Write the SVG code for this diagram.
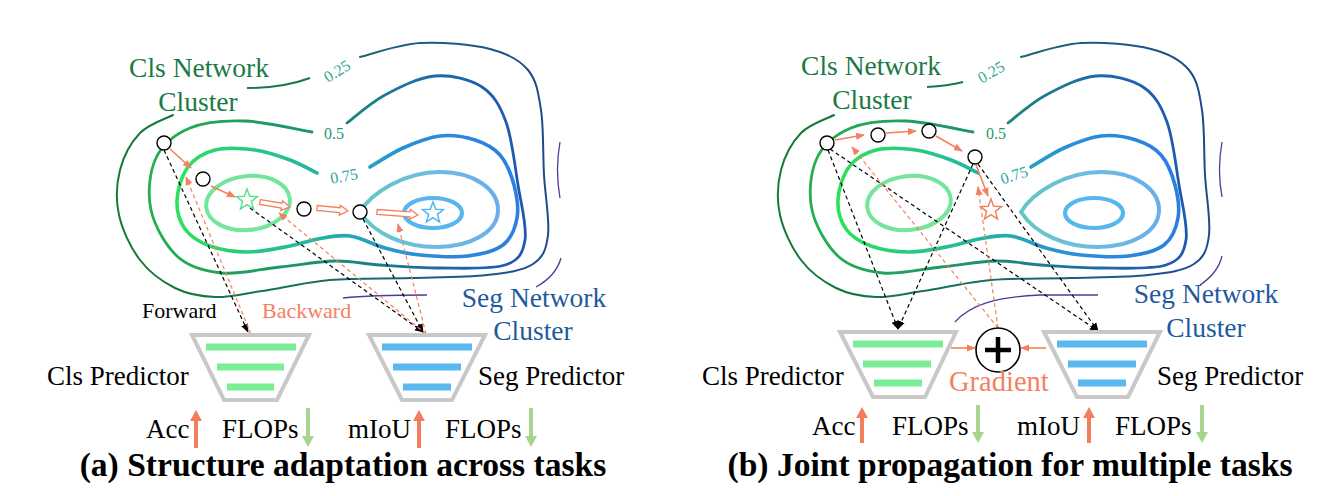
<svg xmlns="http://www.w3.org/2000/svg" width="1333" height="496" viewBox="0 0 1333 496">
<style>
text{font-family:"Liberation Serif","Times New Roman",serif;}
.lbl{font-size:27px;fill:#000;}
.cls{font-size:27.5px;fill:#1a7a45;text-anchor:middle;}
.seg{font-size:27.5px;fill:#1f5a9c;text-anchor:middle;}
.lvl{font-size:16px;text-anchor:middle;}
.title{font-size:33.6px;font-weight:bold;text-anchor:middle;fill:#000;}
.fwd{fill:none;stroke:#000;stroke-width:1.2;stroke-dasharray:4 3;marker-end:url(#ahK);}
.bwd{fill:none;stroke:#f4805f;stroke-width:1.2;stroke-dasharray:4 3;marker-end:url(#ahR);}
.step{fill:none;stroke:#f4805f;stroke-width:1.6;marker-end:url(#ahR);}
.node{fill:#fff;stroke:#000;stroke-width:1.4;}
.hollow{fill:#fff;stroke:#f4805f;stroke-width:1.3;}
.trap{fill:#fff;stroke:#c8c8c8;stroke-width:4;}
.gbar{fill:#7ced97;}
.bbar{fill:#5ab7f0;}
.up{fill:#f47d5d;}
.down{fill:#a7d48f;}
.purple{fill:none;stroke:#4a3d98;stroke-width:1.3;}
.star{fill:#fff;stroke-width:1.5;}
</style>
<defs>
<marker id="ahK" viewBox="0 0 10 10" refX="9" refY="5" markerWidth="9" markerHeight="9" markerUnits="userSpaceOnUse" orient="auto"><path d="M0,1 L10,5 L0,9 z" fill="#000"/></marker>
<marker id="ahR" viewBox="0 0 10 10" refX="9" refY="5" markerWidth="9" markerHeight="9" markerUnits="userSpaceOnUse" orient="auto"><path d="M0,1 L10,5 L0,9 z" fill="#f4805f"/></marker>
<linearGradient id="g25" gradientUnits="userSpaceOnUse" x1="117" y1="0" x2="550" y2="0"><stop offset="0" stop-color="#157a32"/><stop offset="0.45" stop-color="#18705a"/><stop offset="0.7" stop-color="#1b5f80"/><stop offset="1" stop-color="#1f4a8e"/></linearGradient>
<linearGradient id="g5" gradientUnits="userSpaceOnUse" x1="148" y1="0" x2="527" y2="0"><stop offset="0" stop-color="#22b24a"/><stop offset="0.45" stop-color="#1c9070"/><stop offset="0.75" stop-color="#1d6aa8"/><stop offset="1" stop-color="#1f58b0"/></linearGradient>
<linearGradient id="g75" gradientUnits="userSpaceOnUse" x1="176" y1="0" x2="519" y2="0"><stop offset="0" stop-color="#2ce25a"/><stop offset="0.4" stop-color="#22b6a0"/><stop offset="0.7" stop-color="#2a8ed8"/><stop offset="1" stop-color="#2a7fe3"/></linearGradient>
<linearGradient id="g9" gradientUnits="userSpaceOnUse" x1="360" y1="0" x2="498" y2="0"><stop offset="0" stop-color="#62c8c2"/><stop offset="0.5" stop-color="#6bbde0"/><stop offset="1" stop-color="#6aaeea"/></linearGradient>
<polygon id="starShape" points="0,-11 2.7,-3.7 10.5,-3.4 4.4,1.4 6.5,8.9 0,4.6 -6.5,8.9 -4.4,1.4 -10.5,-3.4 -2.7,-3.7"/>
<g id="contours" fill="none" stroke-linecap="round">
<path d="M360,57 C370,54.7 398.3,44.3 420,43 C441.7,41.7 472,44.5 490,49 C508,53.5 519.5,59.8 528,70 C536.5,80.2 538.3,92.5 541,110 C543.7,127.5 542.8,154.2 544,175 C545.2,195.8 549.8,220.2 548,235 C546.2,249.8 543.2,257.3 533,264 C522.8,270.7 507.5,272.7 487,275 C466.5,277.3 436.2,277.2 410,278 C383.8,278.8 354.7,277.8 330,280 C305.3,282.2 281.2,288.2 262,291 C242.8,293.8 229.5,297.5 215,297 C200.5,296.5 187.5,294.2 175,288 C162.5,281.8 149.3,272.2 140,260 C130.7,247.8 122.3,230 119,215 C115.7,200 116.5,183.7 120,170 C123.5,156.3 131.2,142.2 140,133 C148.8,123.8 167.5,118 173,115" stroke="url(#g25)" stroke-width="2"/>
<path d="M347,123 C353.3,118.3 370.3,102.8 385,95 C399.7,87.2 418.8,77.3 435,76 C451.2,74.7 470.2,79.3 482,87 C493.8,94.7 500,105.7 506,122 C512,138.3 514.8,165.3 518,185 C521.2,204.7 527.2,226.7 525,240 C522.8,253.3 519.2,260.3 505,265 C490.8,269.7 460.8,268 440,268 C419.2,268 397.5,266.2 380,265 C362.5,263.8 351.7,260.7 335,261 C318.3,261.3 298.8,265 280,267 C261.2,269 239,274.7 222,273 C205,271.3 189.8,267.5 178,257 C166.2,246.5 154.7,226.5 151,210 C147.3,193.5 149.5,171.7 156,158 C162.5,144.3 175.2,134.2 190,128 C204.8,121.8 224.7,120.3 245,121 C265.3,121.7 300.8,130.2 312,132" stroke="url(#g5)" stroke-width="2.8"/>
<path d="M370,167 C375.5,163.8 391.3,153.2 403,148 C414.7,142.8 428,137.3 440,136 C452,134.7 465,136.8 475,140 C485,143.2 493.5,147.5 500,155 C506.5,162.5 511.2,174.5 514,185 C516.8,195.5 518.8,208 517,218 C515.2,228 511.2,238.7 503,245 C494.8,251.3 481.8,254.3 468,256 C454.2,257.7 433.8,256.3 420,255 C406.2,253.7 396.7,251.2 385,248 C373.3,244.8 361.2,237.5 350,236 C338.8,234.5 328,237.3 318,239 C308,240.7 301.7,243.8 290,246 C278.3,248.2 261.3,252 248,252 C234.7,252 220.5,249.8 210,246 C199.5,242.2 190.5,236.7 185,229 C179.5,221.3 176.5,210.3 177,200 C177.5,189.7 181.7,175.3 188,167 C194.3,158.7 203.8,152.8 215,150 C226.2,147.2 242.5,148.3 255,150 C267.5,151.7 279.7,156.2 290,160 C300.3,163.8 312.5,170.8 317,173" stroke="url(#g75)" stroke-width="3.6"/>
<ellipse cx="248" cy="203" rx="42" ry="27" transform="rotate(-6 248 203)" stroke="#74e59a" stroke-width="4"/>
<path d="M360,212 C372,192 405,172 440,172 C475,172 498,190 498,210 C498,232 470,247 437,247 C405,247 375,235 360,212 Z" stroke="url(#g9)" stroke-width="4"/>
<ellipse cx="433" cy="213" rx="29" ry="15" stroke="#58b6ee" stroke-width="4.2"/>
</g>
</defs>

<g id="panel-a-landscape">
<use href="#contours"/>
<path d="M247,88 Q283,88 310,78" fill="none" stroke="#1a7848" stroke-width="2"/>
<path class="purple" d="M560,142 Q555,170 560,198"/>
<path class="purple" d="M561,258 Q556,276 536,287"/>
<path class="purple" d="M343,298 C370,295 395,295 427,295"/>
<text class="lvl" fill="#3aa597" transform="translate(337,71) rotate(-32)" y="5.5">0.25</text>
<text class="lvl" fill="#1f9a70" x="334" y="138.5">0.5</text>
<text class="lvl" fill="#2aa6a6" transform="translate(344,176) rotate(-10)" y="5.5">0.75</text>
</g>

<g id="panel-b-landscape">
<use href="#contours" transform="translate(661,0)"/>
<path d="M927,87 Q948,86 963,82" fill="none" stroke="#1a7848" stroke-width="2"/>
<path class="purple" d="M1222,142 Q1217,170 1222,197"/>
<path class="purple" d="M1222,256 Q1218,273 1200,285"/>
<path class="purple" d="M955,322 C970,305 995,297 1040,295 L1098,295"/>
<text class="lvl" fill="#3aa597" transform="translate(991,72) rotate(-30)" y="5.5">0.25</text>
<text class="lvl" fill="#1f9a70" x="996" y="139">0.5</text>
<text class="lvl" fill="#2aa6a6" transform="translate(1014,175) rotate(-18)" y="5.5">0.75</text>
</g>

<g id="connectors">
<path class="fwd" d="M164,150 L248,332"/>
<path class="fwd" d="M250,208 L423,332"/>
<path class="fwd" d="M363,219 L423,332"/>
<path class="bwd" d="M251,334 L186,177"/>
<path class="bwd" d="M426,334 L279,213"/>
<path class="bwd" d="M426,334 L398,224"/>
<path class="step" d="M170,149 L191,168"/>
<path class="step" d="M211,186 L235,197"/>
<path class="hollow" transform="translate(260,202) rotate(9.5)" d="M0,-2.5 H22 V-5 L30,0 L22,5 V2.5 H0 Z"/>
<path class="hollow" transform="translate(317,208) rotate(5.5)" d="M0,-2.5 H23 V-5 L31,0 L23,5 V2.5 H0 Z"/>
<path class="hollow" transform="translate(377,212) rotate(4.2)" d="M0,-2.5 H33 V-5 L41,0 L33,5 V2.5 H0 Z"/>

<path class="fwd" d="M828,150 L898,329"/>
<path class="fwd" d="M973,164 L898,329"/>
<path class="fwd" d="M830,149 L1098,331"/>
<path class="fwd" d="M978,164 L1098,331"/>
<path class="bwd" d="M998,328 L852,147"/>
<path class="bwd" d="M998,328 L978,187"/>
<path class="step" d="M835,140 L864,135"/>
<path class="step" d="M886,133 L916,131"/>
<path class="step" d="M936,136 L962,151"/>
<path class="step" d="M976,165 L988,196"/>
<path class="step" d="M951,348 L975,348"/>
<path class="step" d="M1046,348 L1021,348"/>
</g>

<g id="nodes-a">
<circle id="a-c1" class="node" cx="164" cy="143" r="7"/>
<circle id="a-c2" class="node" cx="203" cy="179" r="7"/>
<circle id="a-c3" class="node" cx="304" cy="209" r="7"/>
<circle id="a-c4" class="node" cx="360" cy="212" r="7"/>
<use id="a-star-cls" href="#starShape" class="star" stroke="#5fe08c" transform="translate(247,200)"/>
<use id="a-star-seg" href="#starShape" class="star" stroke="#58b4ee" transform="translate(433,213)"/>
</g>

<g id="nodes-b">
<circle id="b-c1" class="node" cx="827" cy="143" r="7"/>
<circle id="b-c2" class="node" cx="878" cy="135" r="7"/>
<circle id="b-c3" class="node" cx="929" cy="131" r="7"/>
<circle id="b-c4" class="node" cx="975" cy="157" r="7"/>
<use id="b-star" href="#starShape" class="star" stroke="#f4805f" transform="translate(991,210)"/>
</g>

<g id="a-cls-cluster-label">
<text class="cls" x="199" y="77">Cls Network</text>
<text class="cls" x="198" y="111">Cluster</text>
</g>
<g id="a-seg-cluster-label">
<text class="seg" x="534" y="307">Seg Network</text>
<text class="seg" x="533" y="340">Cluster</text>
</g>
<g id="b-cls-cluster-label">
<text class="cls" x="871" y="75">Cls Network</text>
<text class="cls" x="872" y="109">Cluster</text>
</g>
<g id="b-seg-cluster-label">
<text class="seg" x="1206" y="303">Seg Network</text>
<text class="seg" x="1206" y="337">Cluster</text>
</g>

<g id="a-fb-labels">
<text x="142" y="318" style="font-size:22px" fill="#000">Forward</text>
<text x="262" y="318" style="font-size:22px" fill="#f4805f">Backward</text>
</g>

<g id="a-cls-predictor">
<polygon class="trap" points="192,335 309,335 277,400 224,400"/>
<rect class="gbar" x="206" y="343.5" width="90" height="7"/>
<rect class="gbar" x="217" y="363.5" width="67" height="7"/>
<rect class="gbar" x="227" y="383.5" width="47" height="7"/>
<text class="lbl" x="47" y="385">Cls Predictor</text>
<text class="lbl" x="146" y="438">Acc</text>
<polygon class="up" points="194,448 194,421 190,421 196,410 202,421 198,421 198,448"/>
<text class="lbl" x="222" y="438">FLOPs</text>
<polygon class="down" points="306,408 306,436 302,436 308,447 314,436 310,436 310,408"/>
</g>

<g id="a-seg-predictor">
<polygon class="trap" points="369,335 485,335 452,400 402,400"/>
<rect class="bbar" x="382" y="343.5" width="90" height="7"/>
<rect class="bbar" x="393" y="363.5" width="68" height="7"/>
<rect class="bbar" x="403" y="383.5" width="48" height="7"/>
<text class="lbl" x="478" y="385">Seg Predictor</text>
<text class="lbl" x="348" y="438">mIoU</text>
<polygon class="up" points="417,448 417,421 413,421 419,410 425,421 421,421 421,448"/>
<text class="lbl" x="445" y="438">FLOPs</text>
<polygon class="down" points="529,408 529,436 525,436 531,447 537,436 533,436 533,408"/>
</g>

<g id="b-cls-predictor">
<polygon class="trap" points="840,332 956,332 925,397 873,397"/>
<rect class="gbar" x="853" y="340.5" width="90" height="7"/>
<rect class="gbar" x="863" y="360.5" width="68" height="7"/>
<rect class="gbar" x="874" y="379.5" width="48" height="7"/>
<text class="lbl" x="702" y="385">Cls Predictor</text>
<text class="lbl" x="812" y="435">Acc</text>
<polygon class="up" points="860,443 860,418 856,418 862,407 868,418 864,418 864,443"/>
<text class="lbl" x="892" y="435">FLOPs</text>
<polygon class="down" points="976,405 976,432 972,432 978,443 984,432 980,432 980,405"/>
</g>

<g id="b-seg-predictor">
<polygon class="trap" points="1044,332 1160,332 1128,397 1077,397"/>
<rect class="bbar" x="1057" y="340.5" width="90" height="7"/>
<rect class="bbar" x="1068" y="360.5" width="68" height="7"/>
<rect class="bbar" x="1078" y="379.5" width="48" height="7"/>
<text class="lbl" x="1157" y="385">Seg Predictor</text>
<text class="lbl" x="1017" y="435">mIoU</text>
<polygon class="up" points="1087,443 1087,418 1083,418 1089,407 1095,418 1091,418 1091,443"/>
<text class="lbl" x="1115" y="435">FLOPs</text>
<polygon class="down" points="1200,405 1200,432 1196,432 1202,443 1208,432 1204,432 1204,405"/>
</g>

<g id="b-gradient-sum">
<circle cx="998" cy="350" r="22" fill="#fff" stroke="#000" stroke-width="1.6"/>
<path d="M985,350 H1011 M998,337 V363" stroke="#000" stroke-width="4.5"/>
<text x="949" y="391" style="font-size:28.5px" fill="#f4805f">Gradient</text>
</g>

<g id="captions">
<text class="title" x="343" y="476">(a) Structure adaptation across tasks</text>
<text class="title" x="1010" y="476">(b) Joint propagation for multiple tasks</text>
</g>
</svg>
